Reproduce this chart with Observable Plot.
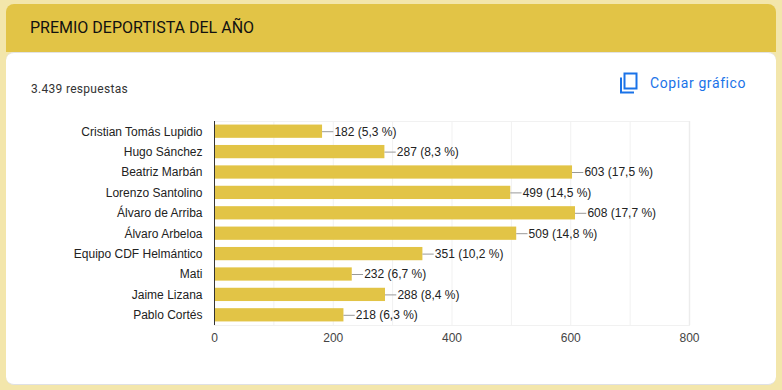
<!DOCTYPE html>
<html><head><meta charset="utf-8">
<script src="https://cdn.jsdelivr.net/npm/d3@7"></script>
<script src="https://cdn.jsdelivr.net/npm/@observablehq/plot@0.6"></script>
<style>
html,body{margin:0;padding:0;background:#f3e6ab;width:782px;height:390px;overflow:hidden;font-family:Roboto,sans-serif}
#head{position:absolute;left:6px;top:4px;width:770px;height:48px;background:#e2c446;border-radius:8px 8px 0 0}
#title{position:absolute;left:30px;top:18px;font-size:16px;line-height:20px;color:#111;white-space:nowrap}
#card{position:absolute;left:6px;top:52px;width:770px;height:333px;background:#fff;border-radius:8px;border-bottom:1px solid #dfe1e5;border-top:1px solid #e3e3e3;box-sizing:border-box}
#sub{position:absolute;left:31px;top:82px;font-size:12px;line-height:14px;letter-spacing:.3px;color:#333;white-space:nowrap}
#copy{position:absolute;left:650px;top:74px;font-size:14px;line-height:18px;letter-spacing:.6px;color:#1a73e8;white-space:nowrap;font-weight:400}
#icon{position:absolute;left:619px;top:72px}
#chart{position:absolute;left:0;top:0}
</style></head><body>
<div id="head"></div><div id="card"></div>
<div id="title">PREMIO DEPORTISTA DEL AÑO</div>
<div id="sub">3.439 respuestas</div>
<svg id="icon" width="20" height="22" viewBox="0 0 20 22"><path d="M2 5.500v15h13" fill="none" stroke="#1a73e8" stroke-width="2"/><rect x="5.500" y="1.500" width="12" height="15" fill="none" stroke="#1a73e8" stroke-width="2"/></svg>
<div id="copy">Copiar gráfico</div>
<div id="chart"></div>
<script>
const names = ["Cristian Tomás Lupidio","Hugo Sánchez","Beatriz Marbán","Lorenzo Santolino","Álvaro de Arriba","Álvaro Arbeloa","Equipo CDF Helmántico","Mati","Jaime Lizana","Pablo Cortés"];
const votes = [182,287,603,499,608,509,351,232,288,218];
const shares = ["5,3","8,3","17,5","14,5","17,7","14,8","10,2","6,7","8,4","6,3"];
const xTicks = [0,200,400,600,800];
const gridTicks = [100,200,300,400,500,600,700];
const rows = names.map((name,i)=>({name,votes:votes[i],label:`${votes[i]} (${shares[i]} %)`}));
const font = "'Liberation Sans', Arial, sans-serif";
const chart = Plot.plot({
  width:782,height:390,
  marginLeft:214,marginRight:93,marginTop:121,marginBottom:65,
  style:{background:"transparent",fontFamily:font,fontSize:"12px",overflow:"visible"},
  x:{domain:[0,800],label:null,grid:false},
  y:{domain:names,label:null,paddingInner:0.35,paddingOuter:0.175,align:0.5,round:false},
  marks:[
    Plot.ruleX(gridTicks,{stroke:"#f1f1f1",strokeOpacity:1}),
    Plot.frame({stroke:"#f1f1f1"}),
    Plot.ruleX([800],{stroke:"#ececec",strokeWidth:1.500}),
    Plot.barX(rows,{x:"votes",y:"name",fill:"#e2c446"}),
    Plot.ruleY(rows,{x1:"votes",x2:d=>d.votes+19,y:"name",stroke:"#999",strokeWidth:1}),
    Plot.text(rows,{x:d=>d.votes+20,y:"name",text:"label",textAnchor:"start",fill:"#222",fontSize:12}),
    Plot.ruleX([0],{stroke:"#333",strokeWidth:1}),
    Plot.axisY({tickSize:0,tickPadding:12,fontSize:12,color:"#222",label:null}),
    Plot.axisX({ticks:xTicks,tickSize:0,tickPadding:8,fontSize:12,color:"#444",label:null})
  ]
});
document.getElementById("chart").appendChild(chart);
</script></body></html>
